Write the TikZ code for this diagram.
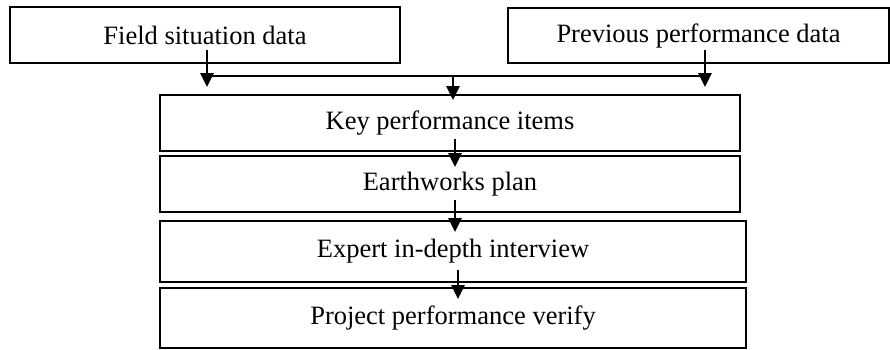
\documentclass[tikz,border=0pt]{standalone}
\usepackage{fontspec}
\setmainfont{Liberation Serif}
\usepackage{tikz}
\usetikzlibrary{arrows.meta}
\tikzset{
    Box/.style = {draw,line width=2.8pt,rectangle,inner sep=0pt,outer sep=0pt,
        font=\fontsize{26.5}{31}\selectfont},
    Flow/.style = {line width=2.8pt,-{Triangle[width=13pt,length=14pt]}},
    Bus/.style = {line width=2.8pt}
}
\begin{document}
\begin{tikzpicture}[x=1pt,y=1pt]
        \useasboundingbox (0,0) rectangle (890,-349);
        \node[Box,minimum width=390pt,minimum height=56pt] (fsd) at (205,-35) {\raisebox{-6pt}{Field situation data}};
        \node[Box,minimum width=381pt,minimum height=55pt] (ppd) at (698.5,-35.5) {\raisebox{-4pt}{Previous performance data}};
        \node[Box,minimum width=580pt,minimum height=56pt] (kpi) at (450,-123) {Key performance items};
        \node[Box,minimum width=580pt,minimum height=56pt] (ewp) at (450,-184) {Earthworks plan};
        \node[Box,minimum width=586pt,minimum height=61pt] (eii) at (453,-251.5) {Expert in-depth interview};
        \node[Box,minimum width=586pt,minimum height=60pt] (ppv) at (453,-318) {Project performance verify};
        \coordinate (busl) at ([xshift=2pt,yshift=-13pt]fsd.south);
        \coordinate (busr) at ([xshift=6.5pt,yshift=-13pt]ppd.south);
        \draw[Bus] (busl) -- (busr);
        \draw[Flow,shorten <=-13pt,shorten >=-11pt] (fsd.south -| busl) -- (busl);
        \draw[Flow,shorten <=-13pt,shorten >=-11pt] (ppd.south -| busr) -- (busr);
        \draw[Flow,shorten >=-5pt] ([xshift=3pt]kpi.north |- busl) -- ([xshift=3pt]kpi.north);
        \foreach \A/\B in {kpi/ewp,ewp/eii,eii/ppv}
            {\draw[Flow,shorten <=-12pt,shorten >=-11pt] ([xshift=5pt]\A.south) -- ([xshift=5pt]\A.south |- \B.north);}
\end{tikzpicture}
\end{document}
